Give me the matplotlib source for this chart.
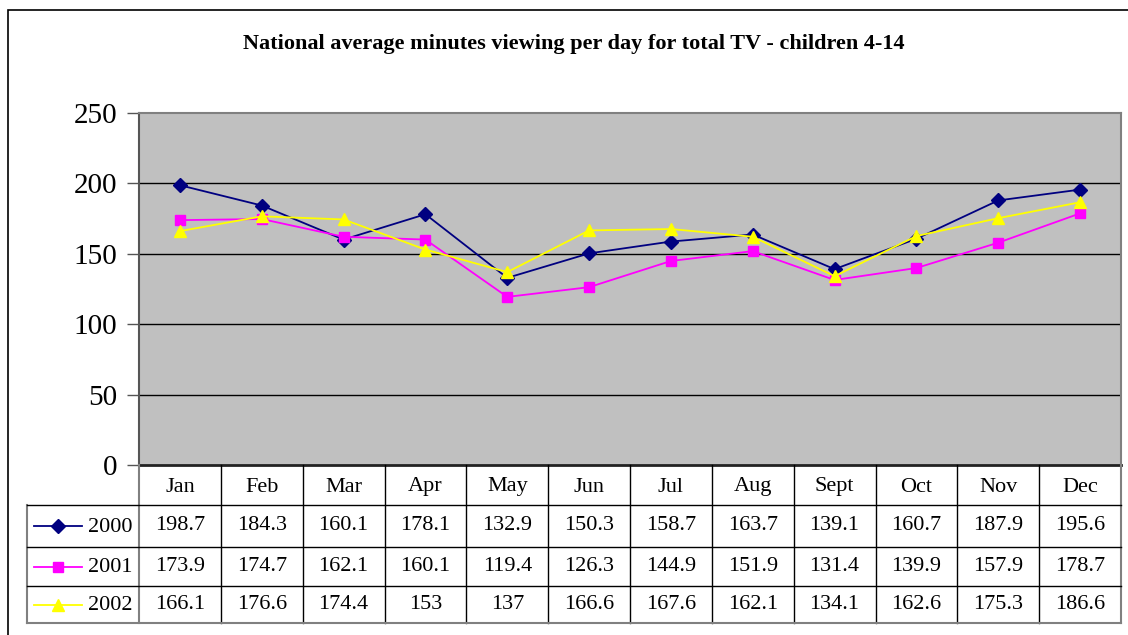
import matplotlib
matplotlib.use('Agg')
import matplotlib.pyplot as plt
import matplotlib.patches as patches
import numpy as np

months = ["Jan", "Feb", "Mar", "Apr", "May", "Jun", "Jul", "Aug", "Sept", "Oct", "Nov", "Dec"]
years = ["2000", "2001", "2002"]
v2000 = [198.7, 184.3, 160.1, 178.1, 132.9, 150.3, 158.7, 163.7, 139.1, 160.7, 187.9, 195.6]
v2001 = [173.9, 174.7, 162.1, 160.1, 119.4, 126.3, 144.9, 151.9, 131.4, 139.9, 157.9, 178.7]
v2002 = [166.1, 176.6, 174.4, 153, 137, 166.6, 167.6, 162.1, 134.1, 162.6, 175.3, 186.6]
title = "National average minutes viewing per day for total TV - children 4-14"

plt.rcParams['font.family'] = ['Liberation Serif', 'DejaVu Serif']

W, H = 1128, 635
fig = plt.figure(figsize=(W / 100, H / 100), dpi=100)
fig.patch.set_facecolor('white')

# plot area in pixels
L, R, T, B = 139, 1121, 113, 465
TB = 623  # table bottom
TL = 27   # table left

ax = fig.add_axes([L / W, 1 - B / H, (R - L) / W, (B - T) / H])
ax.set_facecolor('#C0C0C0')
x = np.arange(len(months))
series = [
    (v2000, '#000080', 'D', 7),
    (v2001, '#FF00FF', 's', 7),
    (v2002, '#FFFF00', '^', 8),
]
for vals, col, mk, ms in series:
    ax.plot(x, vals, color=col, marker=mk, markersize=ms, lw=1.3, zorder=3)

ax.set_xlim(-0.5, len(months) - 0.5)
ax.set_ylim(0, 250)
ax.set_yticks([0, 50, 100, 150, 200, 250])
ax.set_xticks([])
for yv in [50, 100, 150, 200]:
    ax.axhline(yv, color='black', lw=1, zorder=1)
ax.tick_params(axis='y', labelsize=21, length=9, pad=6.5, color='#555555', width=1)
for s in ['top', 'right']:
    ax.spines[s].set_color('#808080')
    ax.spines[s].set_linewidth(1.5)
ax.spines['left'].set_color('#555555')
ax.spines['left'].set_linewidth(1.5)
ax.spines['bottom'].set_color('#222222')
ax.spines['bottom'].set_linewidth(2)

# data table under the plot, in pixel coordinates
cw = (R - L) / len(months)
tax = fig.add_axes([0, 0, 1, 1], facecolor='none')
tax.set_xlim(0, W)
tax.set_ylim(H, 0)
tax.axis('off')

rows = [465, 505, 547, 586, 623]
# vertical lines
for i in range(len(months) + 1):
    xp = L + i * cw
    c = '#808080' if i in (0, len(months)) else 'black'
    tax.plot([xp, xp], [B, TB], color=c, lw=1.5 if c != 'black' else 1)
tax.plot([TL, TL], [rows[1], TB], color='#808080', lw=1.5)
# horizontal lines
for yp in rows[1:]:
    c = '#808080' if yp == TB else 'black'
    tax.plot([TL, R], [yp, yp], color=c, lw=1.5 if c != 'black' else 1)

for i, m in enumerate(months):
    tax.text(L + (i + 0.5) * cw, (rows[0] + rows[1]) / 2 + 2, m, ha='center', va='center', fontsize=16)

for r, (vals, col, mk, ms) in enumerate(series):
    yc = (rows[r + 1] + rows[r + 2]) / 2
    tax.plot([34, 82], [yc, yc], color=col, lw=1.3)
    tax.plot([58], [yc], color=col, marker=mk, markersize=ms)
    tax.text(88, yc + 1, years[r], ha='left', va='center', fontsize=16)
    for i, v in enumerate(vals):
        tax.text(L + (i + 0.5) * cw, yc, f"{v:g}", ha='center', va='center', fontsize=16)

fig.text(574 / W, 1 - 44 / H, title, ha='center', va='center', fontsize=16, fontweight='bold')

# outer chart frame
fig.add_artist(patches.Rectangle((8 / W, -0.1), 2, 1 - 10 / H + 0.1, transform=fig.transFigure,
                                 fill=False, edgecolor='black', lw=1.2))

fig.savefig("out.png", dpi=100)
